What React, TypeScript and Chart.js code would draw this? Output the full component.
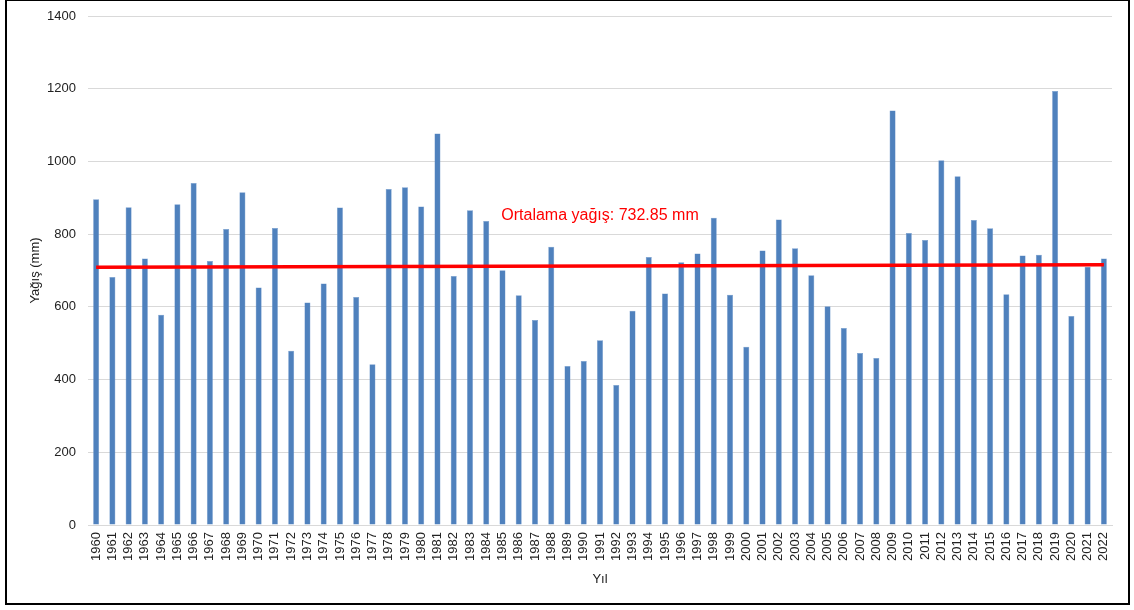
import React, { useEffect, useRef } from "react";
import { Chart, registerables } from "chart.js";

Chart.register(...registerables);

const years: string[] = [
  "1960","1961","1962","1963","1964","1965","1966","1967","1968","1969",
  "1970","1971","1972","1973","1974","1975","1976","1977","1978","1979",
  "1980","1981","1982","1983","1984","1985","1986","1987","1988","1989",
  "1990","1991","1992","1993","1994","1995","1996","1997","1998","1999",
  "2000","2001","2002","2003","2004","2005","2006","2007","2008","2009",
  "2010","2011","2012","2013","2014","2015","2016","2017","2018","2019",
  "2020","2021","2022",
];

const rainfall: number[] = [
  896, 682, 874, 733, 578, 882, 941, 726, 814, 915,
  653, 817, 479, 612, 664, 873, 627, 442, 924, 929,
  876, 1077, 685, 866, 836, 701, 632, 564, 765, 437,
  451, 508, 385, 589, 737, 637, 723, 747, 845, 633,
  490, 755, 840, 761, 687, 602, 542, 473, 459, 1140,
  803, 784, 1003, 959, 839, 816, 635, 741, 743, 1194,
  575, 710, 733,
];

// trend line end values (first and last year)
const trendStart = 709;
const trendEnd = 716;

const yTicks: number[] = [0, 200, 400, 600, 800, 1000, 1200, 1400];

const meanLabel = "Ortalama yağış: 732.85 mm";
const meanLabelValue = 850;

const FONT = "'Liberation Sans', Arial, sans-serif";

export default function App() {
  const canvasRef = useRef<HTMLCanvasElement | null>(null);

  useEffect(() => {
    if (!canvasRef.current) return;
    const trendData: (number | null)[] = years.map((_, i) =>
      i === 0 ? trendStart : i === years.length - 1 ? trendEnd : null
    );

    const labelPlugin = {
      id: "meanLabel",
      afterDatasetsDraw(chart: any) {
        const { ctx, chartArea, scales } = chart;
        const y = scales.y.getPixelForValue(meanLabelValue);
        const x = (chartArea.left + chartArea.right) / 2;
        ctx.save();
        ctx.font = `16px ${FONT}`;
        ctx.fillStyle = "#FF0000";
        ctx.textAlign = "center";
        ctx.textBaseline = "middle";
        ctx.fillText(meanLabel, x, y);
        ctx.restore();
      },
    };

    const chart = new Chart(canvasRef.current, {
      type: "bar",
      data: {
        labels: years,
        datasets: [
          {
            type: "line",
            label: "Trend",
            data: trendData,
            borderColor: "#FF0000",
            borderWidth: 3.5,
            pointRadius: 0,
            spanGaps: true,
            order: 0,
          } as any,
          {
            type: "bar",
            label: "Yağış",
            data: rainfall,
            backgroundColor: "#4F81BD",
            borderColor: "#6E97CC",
            borderWidth: 0.5,
            barPercentage: 0.37,
            categoryPercentage: 1,
            order: 1,
          },
        ],
      },
      options: {
        responsive: false,
        animation: false,
        devicePixelRatio: 1,
        layout: { padding: { left: 0, top: 16, right: 22, bottom: 0 } },
        plugins: {
          legend: { display: false },
          tooltip: { enabled: false },
        },
        scales: {
          x: {
            grid: { display: false, drawTicks: false },
            border: { display: true, color: "#D9D9D9" },
            ticks: {
              autoSkip: false,
              maxRotation: 90,
              minRotation: 90,
              padding: 7,
              color: "#222",
              font: { family: FONT, size: 13 },
            },
            title: {
              display: true,
              text: "Yıl",
              color: "#222",
              font: { family: FONT, size: 13 },
              padding: { top: 0, bottom: 23 },
            },
            afterFit: (scale: any) => {
              scale.height = 85;
            },
          },
          y: {
            min: 0,
            max: 1400,
            afterBuildTicks: (scale: any) => {
              scale.ticks = yTicks.map((v) => ({ value: v }));
            },
            grid: { color: "#D9D9D9", lineWidth: 1, drawTicks: false },
            border: { display: false },
            ticks: {
              padding: 12,
              color: "#222",
              font: { family: FONT, size: 13 },
              callback: (v: any) => String(v),
            },
            title: {
              display: true,
              text: "Yağış (mm)",
              color: "#222",
              font: { family: FONT, size: 13 },
              padding: { top: 28, bottom: 0 },
            },
            afterFit: (scale: any) => {
              scale.width = 88;
              scale.paddingTop = 0;
              scale.paddingBottom = 0;
            },
          },
        },
      },
      plugins: [labelPlugin],
    });

    return () => chart.destroy();
  }, []);

  return (
    <div
      style={{
        position: "absolute",
        left: 0,
        top: 0,
        width: 1134,
        height: 610,
        background: "#fff",
        overflow: "hidden",
      }}
    >
      <canvas
        ref={canvasRef}
        width={1134}
        height={610}
        style={{ position: "absolute", left: 0, top: 0, width: 1134, height: 610 }}
      />
      <div
        style={{
          position: "absolute",
          left: 5,
          top: -1,
          width: 1125,
          height: 606,
          boxSizing: "border-box",
          border: "2px solid #000",
          pointerEvents: "none",
        }}
      />
    </div>
  );
}
